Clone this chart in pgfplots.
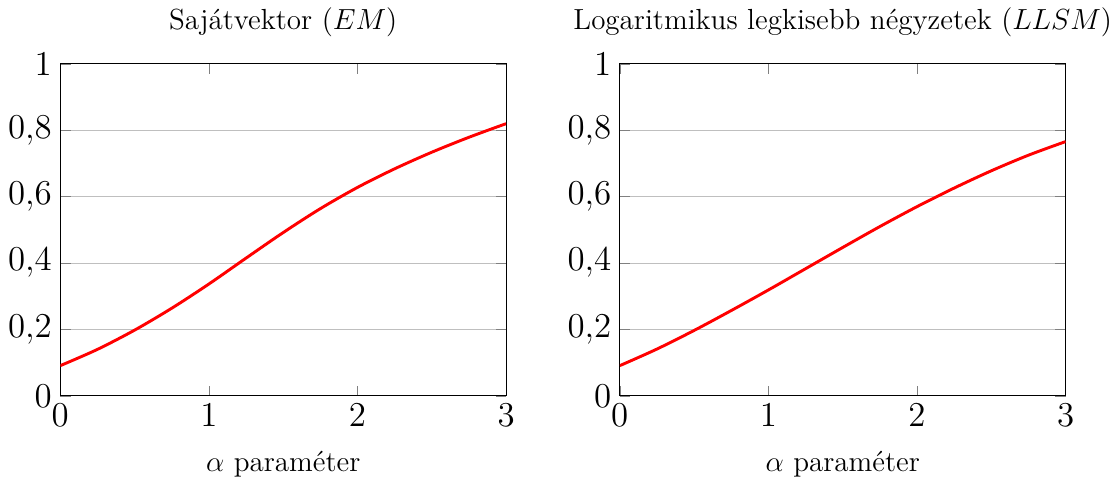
\documentclass[border=0pt]{standalone}
\usepackage{fontspec}
\usepackage{pgfplots}
\pgfplotsset{compat=1.18}
\begin{document}
\begin{tikzpicture}
\pgfplotsset{
  every axis/.append style={
    scale only axis,
    width=184pt, height=137pt,
    xmin=0, xmax=3, ymin=0, ymax=1,
    xtick={0,1,2,3},
    ytick={0,0.2,0.4,0.6,0.8,1},
    ymajorgrids=true,
    grid style={gray!50, line width=0.4pt},
    tick label style={font=\Large},
    yticklabel style={/pgf/number format/.cd, use comma, fixed, precision=1},
    title style={font=\large, yshift=1.5pt},
    label style={font=\large},
    xlabel style={yshift=-3pt},
    xlabel={$\alpha$ paraméter},
  }
}
\begin{axis}[title={Sajátvektor ($EM$)}]
\addplot[red, very thick, smooth] coordinates {
(0,0.091) (0.25,0.140) (0.5,0.198) (0.75,0.264) (1.0,0.337) (1.25,0.415)
(1.5,0.492) (1.75,0.564) (2.0,0.628) (2.25,0.684) (2.5,0.734) (2.75,0.779) (3.0,0.820)
};
\end{axis}
\begin{axis}[xshift=230.9pt, title={Logaritmikus legkisebb négyzetek ($LLSM$)}]
\addplot[red, very thick, smooth] coordinates {
(0,0.091) (0.25,0.141) (0.5,0.197) (0.75,0.257) (1.0,0.319) (1.25,0.383)
(1.5,0.447) (1.75,0.510) (2.0,0.570) (2.25,0.626) (2.5,0.678) (2.75,0.725) (3.0,0.766)
};
\end{axis}
\end{tikzpicture}
\end{document}
